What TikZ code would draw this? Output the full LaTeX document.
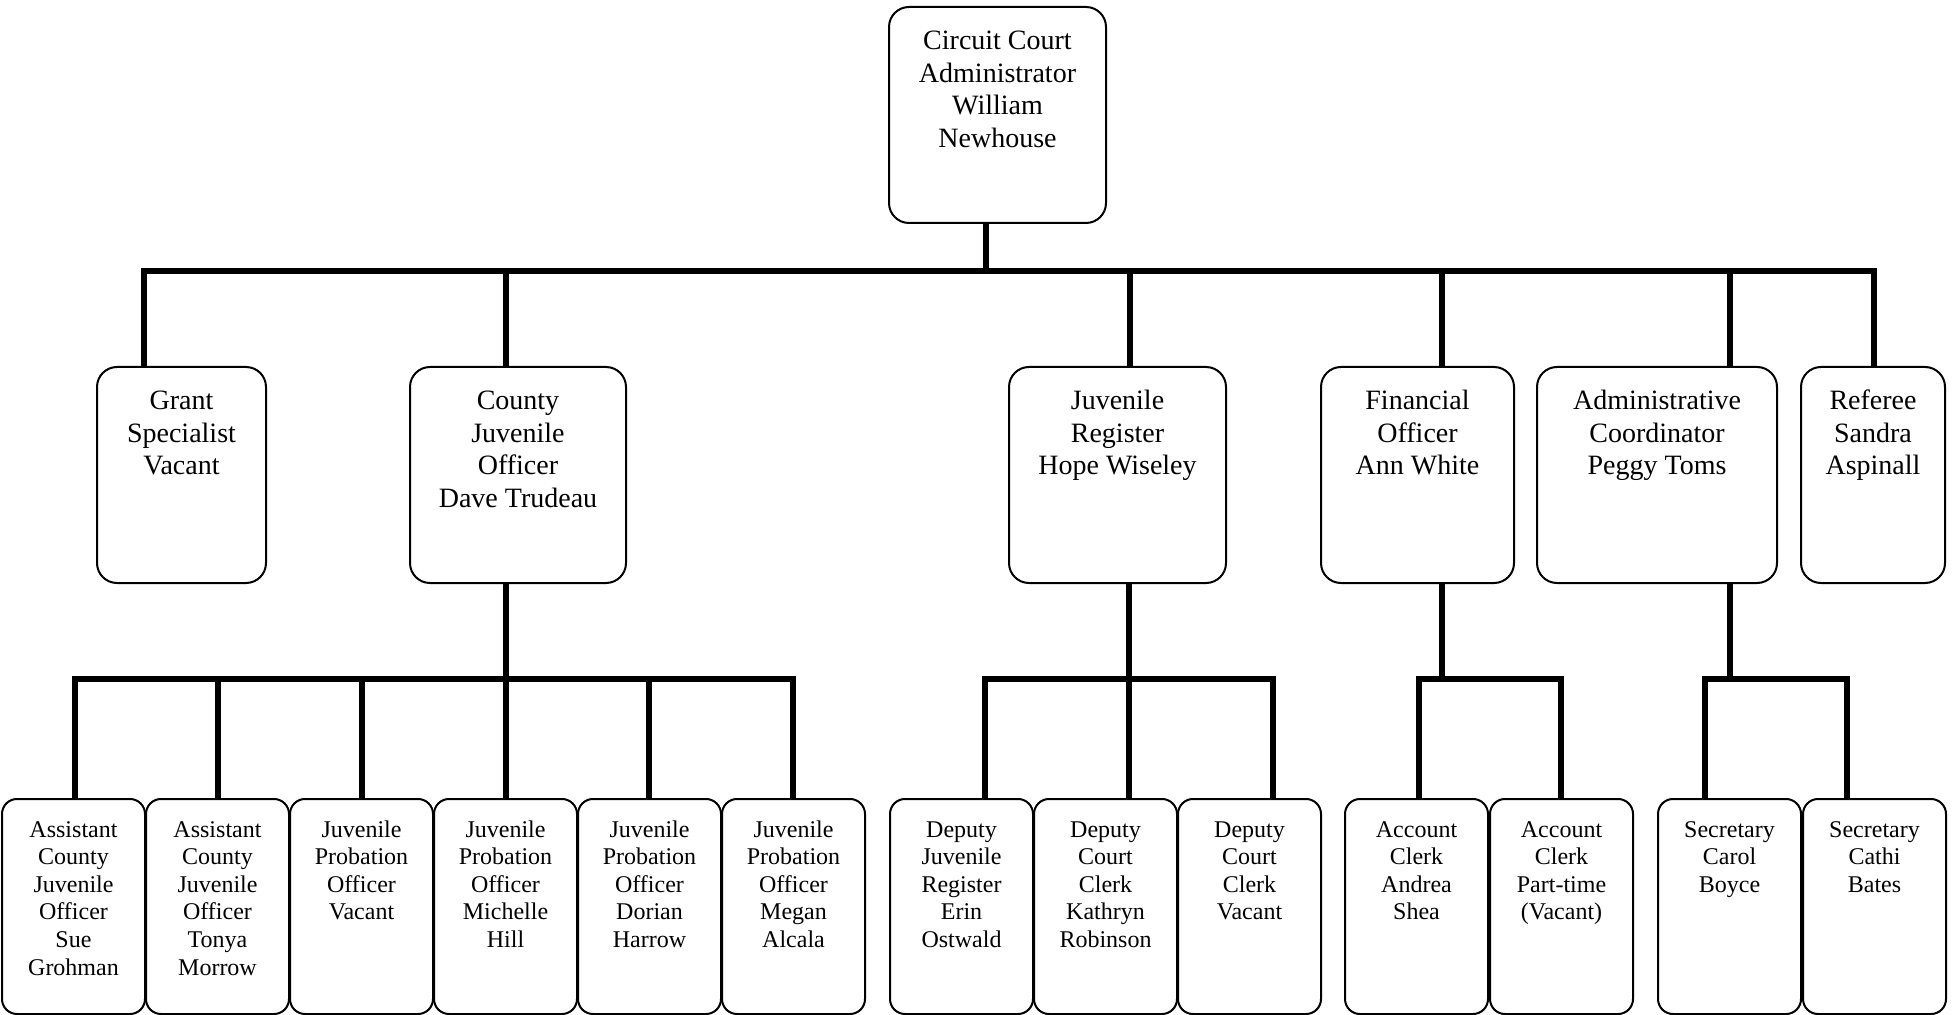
\documentclass[tikz,border=0pt]{standalone}
\usepackage{fontspec}
\setmainfont{Liberation Serif}
\newcommand{\bigtxt}[2]{\parbox[c][108pt][t]{#1}{\centering\rule{0pt}{21.5pt}#2}}
\newcommand{\smalltxt}[1]{\parbox[c][107.5pt][t]{71.5pt}{\centering\rule{0pt}{19pt}#1}}
\tikzset{
  bigbox/.style={draw, line width=1pt, rounded corners=10pt, inner sep=0pt, anchor=north, font=\fontsize{14}{16.2}\selectfont},
  smallbox/.style={draw, line width=1pt, rounded corners=7.5pt, inner sep=0pt, anchor=north, font=\fontsize{12}{13.8}\selectfont},
  conn/.style={line width=3pt, line join=miter}
}
\begin{document}
\begin{tikzpicture}[x=0.5pt, y=-0.5pt]
\useasboundingbox (0,0) rectangle (1953,1015);
% level 1
\node[bigbox] (top) at (997.5,6) {\bigtxt{108.5pt}{Circuit Court\\Administrator\\William\\Newhouse}};
% level 2
\node[bigbox] (grant) at (181.5,366) {\bigtxt{84.5pt}{Grant\\Specialist\\Vacant}};
\node[bigbox] (cjo) at (518,366) {\bigtxt{108pt}{County\\Juvenile\\Officer\\Dave Trudeau}};
\node[bigbox] (jr) at (1117.5,366) {\bigtxt{108.5pt}{Juvenile\\Register\\Hope Wiseley}};
\node[bigbox] (fo) at (1417.5,366) {\bigtxt{96.5pt}{Financial\\Officer\\Ann White}};
\node[bigbox] (ac) at (1657,366) {\bigtxt{120pt}{Administrative\\Coordinator\\Peggy Toms}};
\node[bigbox] (ref) at (1873,366) {\bigtxt{72pt}{Referee\\Sandra\\Aspinall}};
% level 3
\node[smallbox] (a1) at (73.5,798) {\smalltxt{Assistant\\County\\Juvenile\\Officer\\Sue\\Grohman}};
\node[smallbox] (a2) at (217.5,798) {\smalltxt{Assistant\\County\\Juvenile\\Officer\\Tonya\\Morrow}};
\node[smallbox] (a3) at (361.5,798) {\smalltxt{Juvenile\\Probation\\Officer\\Vacant}};
\node[smallbox] (a4) at (505.5,798) {\smalltxt{Juvenile\\Probation\\Officer\\Michelle\\Hill}};
\node[smallbox] (a5) at (649.5,798) {\smalltxt{Juvenile\\Probation\\Officer\\Dorian\\Harrow}};
\node[smallbox] (a6) at (793.5,798) {\smalltxt{Juvenile\\Probation\\Officer\\Megan\\Alcala}};
\node[smallbox] (d1) at (961.5,798) {\smalltxt{Deputy\\Juvenile\\Register\\Erin\\Ostwald}};
\node[smallbox] (d2) at (1105.5,798) {\smalltxt{Deputy\\Court\\Clerk\\Kathryn\\Robinson}};
\node[smallbox] (d3) at (1249.5,798) {\smalltxt{Deputy\\Court\\Clerk\\Vacant}};
\node[smallbox] (f1) at (1416.5,798) {\smalltxt{Account\\Clerk\\Andrea\\Shea}};
\node[smallbox] (f2) at (1561.5,798) {\smalltxt{Account\\Clerk\\Part-time\\(Vacant)}};
\node[smallbox] (s1) at (1729.5,798) {\smalltxt{Secretary\\Carol\\Boyce}};
\node[smallbox] (s2) at (1874.5,798) {\smalltxt{Secretary\\Cathi\\Bates}};
% top bus
\coordinate (t0) at (986,271);
\coordinate (b1) at (144,271);
\coordinate (b2) at (506,271);
\coordinate (b3) at (1130,271);
\coordinate (b4) at (1442,271);
\coordinate (b5) at (1730,271);
\coordinate (b6) at (1874,271);
\draw[conn] (top.south -| t0) -- (t0);
\draw[conn] (grant.north -| b1) -- (b1) -- (b6) -- (ref.north -| b6);
\draw[conn] (b2) -- (b2 |- cjo.north);
\draw[conn] (b3) -- (b3 |- jr.north);
\draw[conn] (b4) -- (b4 |- fo.north);
\draw[conn] (b5) -- (b5 |- ac.north);
% county bus
\coordinate (c1) at (75,679);
\coordinate (c2) at (218,679);
\coordinate (c3) at (362,679);
\coordinate (c4) at (506,679);
\coordinate (c5) at (649,679);
\coordinate (c6) at (793,679);
\draw[conn] (cjo.south -| c4) -- (c4 |- a4.north);
\draw[conn] (a1.north -| c1) -- (c1) -- (c6) -- (a6.north -| c6);
\draw[conn] (c2) -- (c2 |- a2.north);
\draw[conn] (c3) -- (c3 |- a3.north);
\draw[conn] (c5) -- (c5 |- a5.north);
% juvenile register bus
\coordinate (j1) at (985,679);
\coordinate (j2) at (1129,679);
\coordinate (j3) at (1273,679);
\draw[conn] (jr.south -| j2) -- (j2 |- d2.north);
\draw[conn] (d1.north -| j1) -- (j1) -- (j3) -- (d3.north -| j3);
% financial bus
\coordinate (g0) at (1442,679);
\coordinate (g1) at (1419,679);
\coordinate (g2) at (1561,679);
\draw[conn] (fo.south -| g0) -- (g0);
\draw[conn] (f1.north -| g1) -- (g1) -- (g2) -- (f2.north -| g2);
% admin bus
\coordinate (h0) at (1730,679);
\coordinate (h1) at (1705,679);
\coordinate (h2) at (1847,679);
\draw[conn] (ac.south -| h0) -- (h0);
\draw[conn] (s1.north -| h1) -- (h1) -- (h2) -- (s2.north -| h2);
\end{tikzpicture}
\end{document}
